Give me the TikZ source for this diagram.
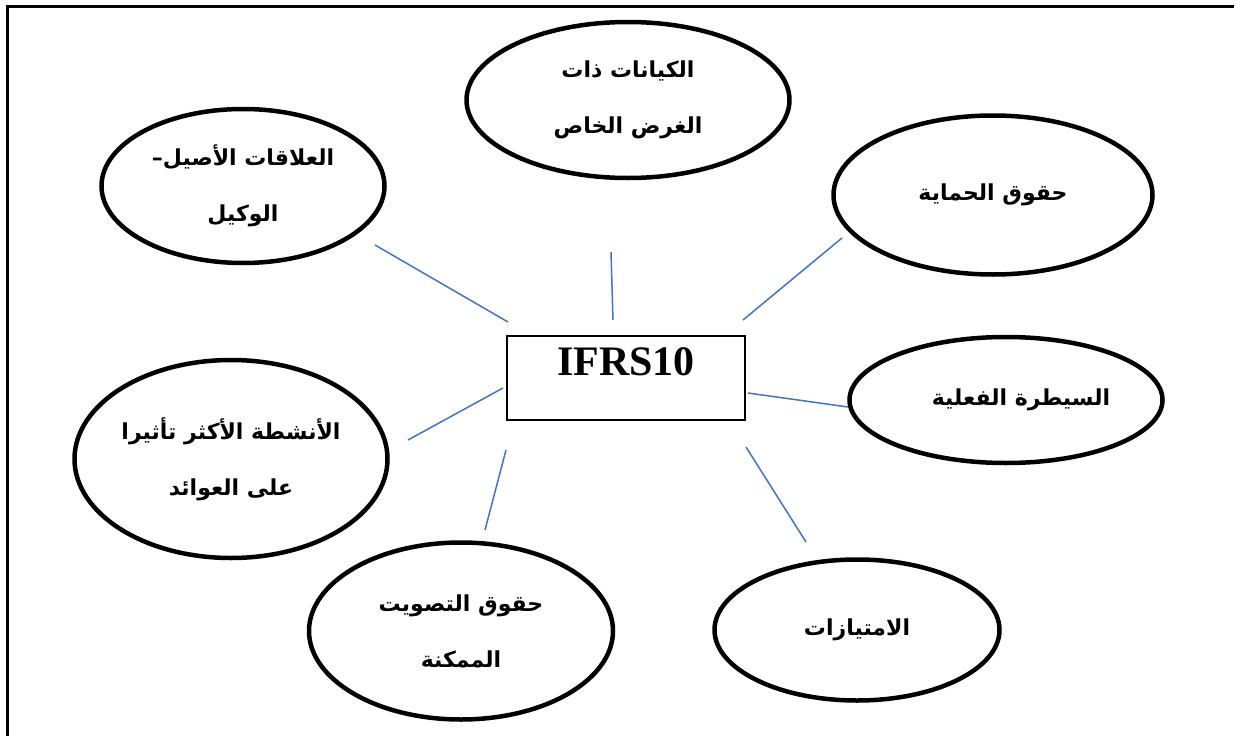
\documentclass[tikz,border=0pt]{standalone}
\usepackage{fontspec}
\setmainfont{Liberation Serif}
\newfontfamily\arabicfont[Script=Arabic]{DejaVu Sans}
\TeXXeTstate=1
\usetikzlibrary{shapes.geometric}
\definecolor{LinkBlue}{RGB}{68,114,196}
\tikzset{
  bubble/.style={ellipse,draw=black,line width=4.5pt,inner sep=0pt,align=center,
    font=\arabicfont\bfseries\fontsize{22}{56}\selectfont},
  link/.style={draw=LinkBlue,line width=1.5pt},
  mainbox/.style={rectangle,draw=black,line width=2.8pt,inner sep=0pt,
    minimum width=238pt,minimum height=84pt},
}

\begin{document}
\begin{tikzpicture}[x=1pt,y=-1pt]
\useasboundingbox (0,0) rectangle (1235,736);
\draw[line width=3pt] (7,736) -- (7,6) -- (1234,6);
% centre box
\node[mainbox] (ifrs) at (626,378) {};
\node[font=\bfseries\fontsize{42}{48}\selectfont] (ifrstitle) at (626,362) {IFRS10};
% bubbles
\node[bubble,minimum width=323pt,minimum height=156pt] (spe) at (628,100)
  {\beginR الكيانات ذات\endR\\\beginR الغرض الخاص\endR};
\node[bubble,minimum width=283pt,minimum height=154pt] (agency) at (243,186)
  {\beginR العلاقات الأصيل–\endR\\\beginR الوكيل\endR};
\node[bubble,minimum width=319pt,minimum height=159pt] (protect) at (993,195)
  {\beginR حقوق الحماية\endR};
\node[bubble,minimum width=313pt,minimum height=126pt] (defacto) at (1006,400)
  {\hspace*{30pt}\beginR السيطرة الفعلية\endR};
\node[bubble,minimum width=285pt,minimum height=141pt] (franchise) at (857,630)
  {\beginR الامتيازات\endR};
\node[bubble,minimum width=304pt,minimum height=177pt] (voting) at (461,631)
  {\beginR حقوق التصويت\endR\\\beginR الممكنة\endR};
\node[bubble,minimum width=313pt,minimum height=198pt] (relevant) at (231,459)
  {\beginR الأنشطة الأكثر تأثيرا\endR\\\beginR على العوائد\endR};
% connector ends
\coordinate (agencyA) at (375,245);   \coordinate (agencyB) at (508,322);
\coordinate (speA) at (611,252);      \coordinate (speB) at (613,320);
\coordinate (protectA) at (842,238);  \coordinate (protectB) at (743,320);
\coordinate (defactoA) at (848,407);  \coordinate (defactoB) at (748,393);
\coordinate (franchiseA) at (806,542);\coordinate (franchiseB) at (746,447);
\coordinate (votingA) at (485,530);   \coordinate (votingB) at (506,450);
\coordinate (relevantA) at (408,440); \coordinate (relevantB) at (503,388);
\foreach \n in {agency,spe,protect,defacto,franchise,voting,relevant}
  \draw[link] (\n A) -- (\n B);
\end{tikzpicture}
\end{document}
